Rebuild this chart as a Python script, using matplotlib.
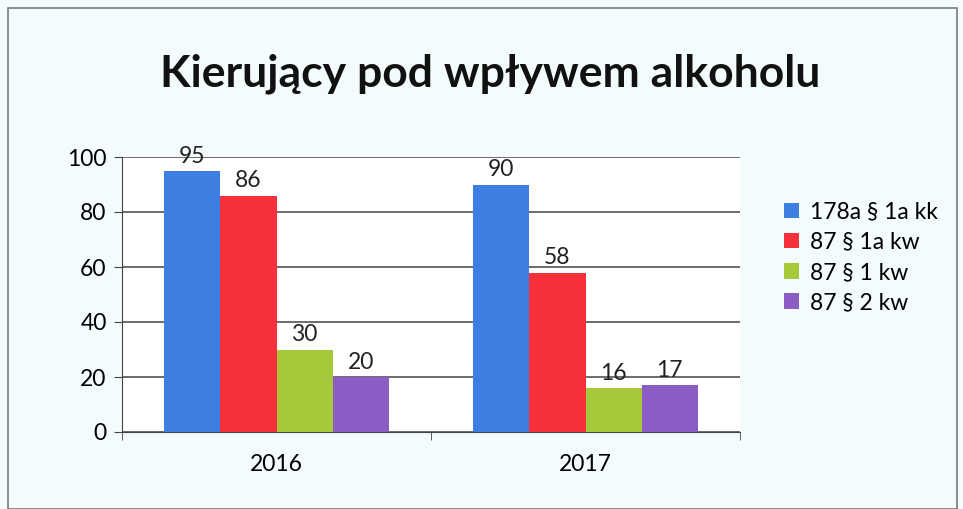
import numpy as np
import matplotlib.pyplot as plt
from matplotlib.patches import Rectangle

# dane z wykresu
years = ['2016', '2017']
series_names = ['178a § 1a kk', '87 § 1a kw', '87 § 1 kw', '87 § 2 kw']
v_178a_1a = [95, 90]
v_87_1a = [86, 58]
v_87_1 = [30, 16]
v_87_2 = [20, 17]
colors = ['#3d7fe0', '#f5303a', '#a6c93c', '#8a5cc4']

values = [v_178a_1a, v_87_1a, v_87_1, v_87_2]

plt.rcParams['font.family'] = ['Lato', 'DejaVu Sans']

fig = plt.figure(figsize=(9.63, 5.09), dpi=100)
fig.patch.set_facecolor('#f4fbfd')

# ramka wokol wykresu
fig.patches.append(Rectangle((8/963, 0), 949/963, 1 - 8/509, transform=fig.transFigure,
                             fill=False, edgecolor='#7a7a7a', linewidth=1.2))

ax = fig.add_axes([122/963, 1 - 432/509, 618/963, 275/509])
ax.set_facecolor('white')

x = np.arange(len(years))
w = 224/308/4
for k in range(4):
    pos = x - 2*w + w/2 + k*w
    ax.bar(pos, values[k], width=w, color=colors[k], label=series_names[k], zorder=3)
    for p, v in zip(pos, values[k]):
        ax.text(p, v + 1.5, str(v), ha='center', va='bottom', fontsize=16.5, color='#222222')

ax.set_xlim(-0.5, 1.5)
ax.set_ylim(0, 100)
ax.set_yticks([0, 20, 40, 60, 80, 100])
ax.yaxis.grid(True, color='#444444', linewidth=1.1, zorder=0)
ax.set_xticks(x)
ax.set_xticklabels(years, fontsize=16.5)
ax.set_xticks([-0.5, 0.5, 1.5], minor=True)
ax.tick_params(axis='x', which='major', length=0, pad=16)
ax.tick_params(axis='x', which='minor', length=6, color='#444444', direction='out')
ax.tick_params(axis='y', length=6, color='#444444', labelsize=16.5, pad=5)
for s in ['top', 'right']:
    ax.spines[s].set_visible(False)
ax.spines['left'].set_color('#444444')
ax.spines['bottom'].set_color('#444444')

fig.text(490/963, 1 - 74/509, 'Kierujący pod wpływem alkoholu', ha='center', va='center',
         fontsize=32, fontweight='bold', color='#111111')

ax.legend(loc='upper left', bbox_to_anchor=(763/963, 1 - 181/509), bbox_transform=fig.transFigure,
          frameon=False, fontsize=16.5, handlelength=0.65, handleheight=0.65, handletextpad=0.5,
          labelspacing=0.4)

fig.savefig('out.png', dpi=100, facecolor=fig.get_facecolor())
